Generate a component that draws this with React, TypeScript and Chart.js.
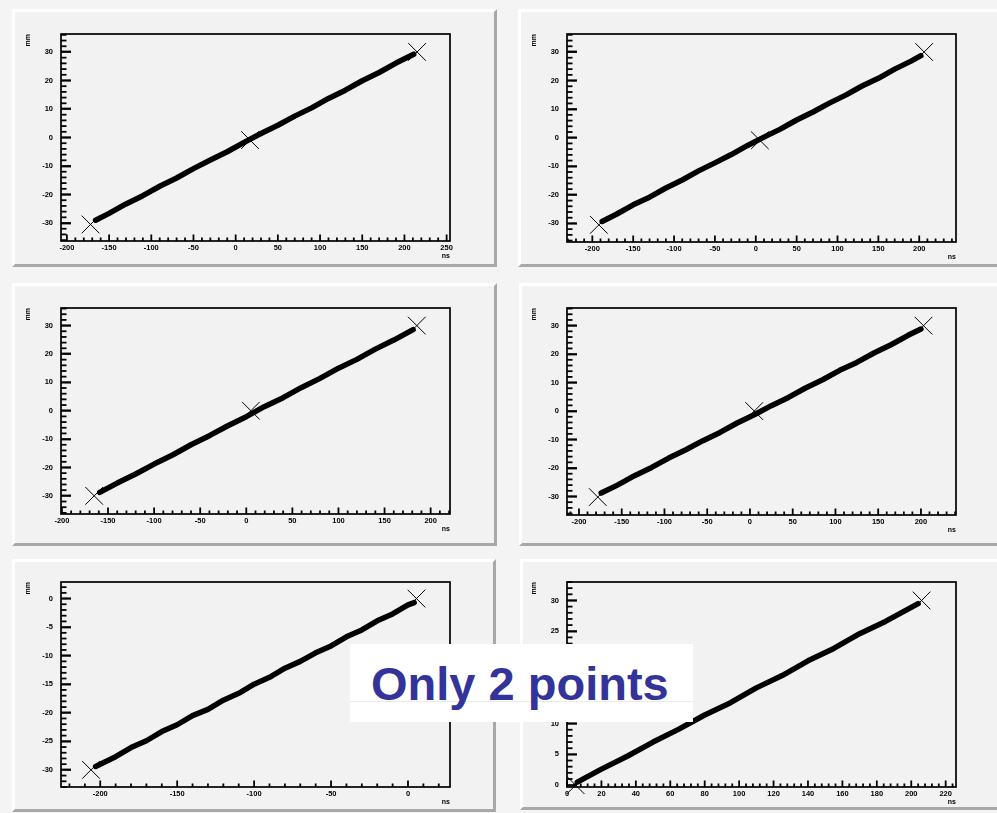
import { useEffect, useRef } from "react";
import { Chart, registerables } from "chart.js";

Chart.register(...registerables);

// ---- panel 1 (top left)
const TRACK_X_1 = [-166, -150, -130, -110, -90, -70, -50, -30, -10, 10, 30, 50, 70, 90, 110, 130, 150, 170, 190, 211];
const TRACK_Y_1 = [-29.0, -26.6, -23.3, -20.4, -17.1, -14.2, -10.9, -7.9, -5.0, -1.7, 1.4, 4.3, 7.5, 10.4, 13.7, 16.6, 19.9, 22.8, 26.1, 29.2];
const MARK_X_1 = [-172, 17, 215];
const MARK_Y_1 = [-30.5, -0.9, 30];
const X_RANGE_1 = [-207, 254];
const Y_RANGE_1 = [-36.3, 36.3];
const X_TICKS_1 = [-200, -150, -100, -50, 0, 50, 100, 150, 200, 250];
const Y_TICKS_1 = [-30, -20, -10, 0, 10, 20, 30];

// ---- panel 2 (top right)
const TRACK_X_2 = [-188, -170, -150, -130, -110, -90, -70, -50, -30, -10, 10, 30, 50, 70, 90, 110, 130, 150, 170, 190, 202];
const TRACK_Y_2 = [-29.3, -26.7, -23.5, -20.8, -17.6, -14.8, -11.6, -8.8, -5.9, -2.7, 0.2, 3.0, 6.2, 9.0, 12.1, 14.9, 18.1, 20.8, 24.0, 26.8, 28.7];
const MARK_X_2 = [-192, 5, 206];
const MARK_Y_2 = [-30.5, -0.9, 30];
const X_RANGE_2 = [-231, 245];
const Y_RANGE_2 = [-36.5, 36.3];
const X_TICKS_2 = [-200, -150, -100, -50, 0, 50, 100, 150, 200];
const Y_TICKS_2 = [-30, -20, -10, 0, 10, 20, 30];

// ---- panel 3 (middle left)
const TRACK_X_3 = [-159, -140, -120, -100, -80, -60, -40, -20, 0, 20, 40, 60, 80, 100, 120, 140, 160, 181];
const TRACK_Y_3 = [-28.8, -25.5, -22.3, -18.8, -15.6, -12.0, -8.8, -5.3, -2.1, 1.5, 4.6, 8.2, 11.4, 15.0, 18.1, 21.7, 24.9, 28.6];
const MARK_X_3 = [-165, 5, 185];
const MARK_Y_3 = [-30, 0, 30];
const X_RANGE_3 = [-201, 221];
const Y_RANGE_3 = [-36.4, 36.2];
const X_TICKS_3 = [-200, -150, -100, -50, 0, 50, 100, 150, 200];
const Y_TICKS_3 = [-30, -20, -10, 0, 10, 20, 30];

// ---- panel 4 (middle right)
const TRACK_X_4 = [-174, -155, -135, -115, -95, -75, -55, -35, -15, 5, 25, 45, 65, 85, 105, 125, 145, 165, 185, 200];
const TRACK_Y_4 = [-28.8, -26.0, -22.7, -19.8, -16.5, -13.6, -10.4, -7.5, -4.2, -1.3, 1.9, 4.8, 8.1, 11.0, 14.3, 17.1, 20.4, 23.3, 26.6, 28.8];
const MARK_X_4 = [-178, 5, 203];
const MARK_Y_4 = [-30.2, 0, 30];
const X_RANGE_4 = [-214, 241];
const Y_RANGE_4 = [-36.5, 36.2];
const X_TICKS_4 = [-200, -150, -100, -50, 0, 50, 100, 150, 200];
const Y_TICKS_4 = [-30, -20, -10, 0, 10, 20, 30];

// ---- panel 5 (bottom left)
const TRACK_X_5 = [-203, -190, -180, -170, -160, -150, -140, -130, -120, -110, -100, -90, -80, -70, -60, -50, -40, -30, -20, -10, 0, 4];
const TRACK_Y_5 = [-29.4, -27.7, -26.1, -24.9, -23.3, -22.1, -20.5, -19.4, -17.8, -16.6, -15.0, -13.8, -12.2, -11.0, -9.5, -8.3, -6.7, -5.5, -3.9, -2.7, -1.1, -0.7];
const MARK_X_5 = [-206, 5.5];
const MARK_Y_5 = [-30, 0];
const X_RANGE_5 = [-225.5, 27.3];
const Y_RANGE_5 = [-33, 2.9];
const X_TICKS_5 = [-200, -150, -100, -50, 0];
const Y_TICKS_5 = [-30, -25, -20, -15, -10, -5, 0];

// ---- panel 6 (bottom right)
const TRACK_X_6 = [6, 20, 35, 50, 65, 80, 95, 110, 125, 140, 155, 170, 185, 204];
const TRACK_Y_6 = [0.5, 2.6, 4.7, 7.0, 9.1, 11.4, 13.4, 15.8, 17.8, 20.2, 22.2, 24.6, 26.6, 29.5];
const MARK_X_6 = [5, 206];
const MARK_Y_6 = [0, 30];
const X_RANGE_6 = [0, 226];
const Y_RANGE_6 = [-0.3, 33];
const X_TICKS_6 = [0, 20, 40, 60, 80, 100, 120, 140, 160, 180, 200, 220];
const Y_TICKS_6 = [0, 5, 10, 15, 20, 25, 30];

const X_TITLE = "ns";
const Y_TITLE = "mm";
const NOTE = "Only 2 points";

type Panel = {
  tx: number[]; ty: number[]; mx: number[]; my: number[];
  xr: number[]; yr: number[]; xt: number[]; yt: number[];
  xMinor: number; yMinor: number;
  box: { left: number; top: number; w: number; h: number };
  plot: { l: number; r: number; t: number; b: number };
};

const PANELS: Panel[] = [
  { tx: TRACK_X_1, ty: TRACK_Y_1, mx: MARK_X_1, my: MARK_Y_1, xr: X_RANGE_1, yr: Y_RANGE_1, xt: X_TICKS_1, yt: Y_TICKS_1, xMinor: 10, yMinor: 2,
    box: { left: 12, top: 9, w: 485, h: 258 }, plot: { l: 61, r: 450, t: 34, b: 241 } },
  { tx: TRACK_X_2, ty: TRACK_Y_2, mx: MARK_X_2, my: MARK_Y_2, xr: X_RANGE_2, yr: Y_RANGE_2, xt: X_TICKS_2, yt: Y_TICKS_2, xMinor: 10, yMinor: 2,
    box: { left: 518, top: 9, w: 482, h: 258 }, plot: { l: 567, r: 956, t: 34, b: 242 } },
  { tx: TRACK_X_3, ty: TRACK_Y_3, mx: MARK_X_3, my: MARK_Y_3, xr: X_RANGE_3, yr: Y_RANGE_3, xt: X_TICKS_3, yt: Y_TICKS_3, xMinor: 10, yMinor: 2,
    box: { left: 12, top: 283, w: 485, h: 263 }, plot: { l: 61, r: 450, t: 308, b: 514 } },
  { tx: TRACK_X_4, ty: TRACK_Y_4, mx: MARK_X_4, my: MARK_Y_4, xr: X_RANGE_4, yr: Y_RANGE_4, xt: X_TICKS_4, yt: Y_TICKS_4, xMinor: 10, yMinor: 2,
    box: { left: 519, top: 283, w: 481, h: 263 }, plot: { l: 567, r: 956, t: 308, b: 515 } },
  { tx: TRACK_X_5, ty: TRACK_Y_5, mx: MARK_X_5, my: MARK_Y_5, xr: X_RANGE_5, yr: Y_RANGE_5, xt: X_TICKS_5, yt: Y_TICKS_5, xMinor: 10, yMinor: 1,
    box: { left: 12, top: 559, w: 484, h: 253 }, plot: { l: 61, r: 450, t: 582, b: 787 } },
  { tx: TRACK_X_6, ty: TRACK_Y_6, mx: MARK_X_6, my: MARK_Y_6, xr: X_RANGE_6, yr: Y_RANGE_6, xt: X_TICKS_6, yt: Y_TICKS_6, xMinor: 4, yMinor: 1,
    box: { left: 520, top: 559, w: 480, h: 251 }, plot: { l: 567, r: 956, t: 582, b: 787 } },
];

const FONT = "'Liberation Sans', Arial, Helvetica, sans-serif";

// ROOT style frame with inward major/minor ticks on the left and bottom axes
function makeFrame(xMinor: number, yMinor: number) {
  return {
    id: "rootFrame",
    afterDraw(chart: any) {
      const { ctx, chartArea: a, scales } = chart;
      const xs = scales.x, ys = scales.y;
      const isMajor = (vals: number[], v: number) => vals.some((t) => Math.abs(t - v) < 1e-6);
      const xMaj = xs.ticks.map((t: any) => t.value);
      const yMaj = ys.ticks.map((t: any) => t.value);
      ctx.save();
      ctx.strokeStyle = "#000000";
      ctx.lineWidth = 1.8;
      const yLo = Math.min(ys.min, ys.max), yHi = Math.max(ys.min, ys.max);
      for (let i = Math.ceil(yLo / yMinor - 1e-9); i <= Math.floor(yHi / yMinor + 1e-9); i++) {
        const v = i * yMinor;
        const py = ys.getPixelForValue(v);
        ctx.beginPath();
        ctx.moveTo(a.left, py);
        ctx.lineTo(a.left + (isMajor(yMaj, v) ? 10 : 5.5), py);
        ctx.stroke();
      }
      for (let i = Math.ceil(xs.min / xMinor - 1e-9); i <= Math.floor(xs.max / xMinor + 1e-9); i++) {
        const v = i * xMinor;
        const px = xs.getPixelForValue(v);
        ctx.beginPath();
        ctx.moveTo(px, a.bottom);
        ctx.lineTo(px, a.bottom - (isMajor(xMaj, v) ? 6.5 : 3.5));
        ctx.stroke();
      }
      ctx.lineWidth = 1.7;
      ctx.strokeRect(a.left, a.top, a.right - a.left, a.bottom - a.top);
      ctx.restore();
    },
  };
}

function RootPanel({ p }: { p: Panel }) {
  const ref = useRef<HTMLCanvasElement | null>(null);
  const chartRef = useRef<Chart | null>(null);

  useEffect(() => {
    if (!ref.current) return;
    chartRef.current?.destroy();
    const { box, plot } = p;
    const yW = plot.l - box.left;
    const xH = box.top + box.h - plot.b;
    const tickFont = { family: FONT, size: 7.5, weight: "bold" as const };
    const titleFont = { family: FONT, size: 7, weight: "bold" as const };

    chartRef.current = new Chart(ref.current, {
      type: "scatter",
      data: {
        datasets: [
          {
            data: p.tx.map((x, i) => ({ x, y: p.ty[i] })),
            showLine: true,
            borderColor: "#000",
            backgroundColor: "#000",
            borderWidth: 5.5,
            pointRadius: 0,
            borderJoinStyle: "round",
            borderCapStyle: "round",
          },
          {
            data: p.mx.map((x, i) => ({ x, y: p.my[i] })),
            showLine: false,
            pointStyle: "crossRot",
            pointRadius: 12.5,
            borderWidth: 1,
            borderColor: "#000",
            backgroundColor: "#000",
            clip: false,
          },
        ],
      },
      options: {
        animation: false,
        responsive: true,
        maintainAspectRatio: false,
        events: [],
        layout: {
          autoPadding: false,
          padding: { left: 0, top: plot.t - box.top, right: box.left + box.w - plot.r, bottom: 0 },
        },
        plugins: {
          legend: { display: false },
          tooltip: { enabled: false },
        },
        scales: {
          x: {
            type: "linear",
            min: p.xr[0],
            max: p.xr[1],
            afterBuildTicks: (s: any) => { s.ticks = p.xt.map((value) => ({ value })); },
            afterFit: (s: any) => {
              s.height = xH;
              s.paddingLeft = 0; s.paddingRight = 0; s.paddingTop = 0; s.paddingBottom = 0;
            },
            grid: { display: false, drawTicks: false },
            border: { display: false },
            ticks: { font: tickFont, color: "#000", padding: 2, maxRotation: 0, autoSkip: false },
            title: {
              display: true, text: X_TITLE, align: "end", font: titleFont, color: "#000",
              padding: { top: 0, bottom: xH - 15 - 4.2 },
            },
          },
          y: {
            type: "linear",
            min: p.yr[0],
            max: p.yr[1],
            afterBuildTicks: (s: any) => { s.ticks = p.yt.map((value) => ({ value })); },
            afterFit: (s: any) => {
              s.width = yW;
              s.paddingLeft = 0; s.paddingRight = 0; s.paddingTop = 0; s.paddingBottom = 0;
            },
            // major ticks drawn by the axis itself, pointing into the frame
            grid: {
              display: true, drawOnChartArea: false, drawTicks: true,
              tickLength: -10, tickWidth: 1.8, tickColor: "#000", color: "rgba(0,0,0,0)",
            },
            border: { display: false },
            ticks: { font: tickFont, color: "#000", padding: 18, autoSkip: false },
            title: {
              display: true, text: Y_TITLE, align: "end", font: titleFont, color: "#000",
              padding: { top: yW - 33 - 4.2, bottom: 0 },
            },
          },
        },
      },
      plugins: [makeFrame(p.xMinor, p.yMinor)],
    });

    return () => chartRef.current?.destroy();
  }, [p]);

  const { box } = p;
  return (
    <div style={{ position: "absolute", left: box.left, top: box.top, width: box.w, height: box.h, background: "#f2f2f2" }}>
      <canvas ref={ref} />
      <div
        style={{
          position: "absolute", inset: 0, boxSizing: "border-box", pointerEvents: "none",
          borderTop: "3px solid #ffffff", borderLeft: "3px solid #ffffff",
          borderRight: "3px solid #a8a8a8", borderBottom: "3px solid #a8a8a8",
        }}
      />
    </div>
  );
}

export default function App() {
  return (
    <div style={{ position: "absolute", left: 0, top: 0, width: 997, height: 813, background: "#f4f4f4", overflow: "hidden" }}>
      {PANELS.map((p, i) => <RootPanel key={i} p={p} />)}
      <div style={{ position: "absolute", left: 350, top: 644, width: 343, height: 78, background: "#fff" }}>
        <div style={{ position: "absolute", left: 0, right: 0, top: 57, height: 1, background: "#ececec" }} />
        <div
          style={{
            position: "absolute", left: 21, top: 16, lineHeight: "47px", whiteSpace: "nowrap",
            fontFamily: FONT, fontWeight: "bold", fontSize: 47, color: "#333399",
          }}
        >
          {NOTE}
        </div>
      </div>
    </div>
  );
}
